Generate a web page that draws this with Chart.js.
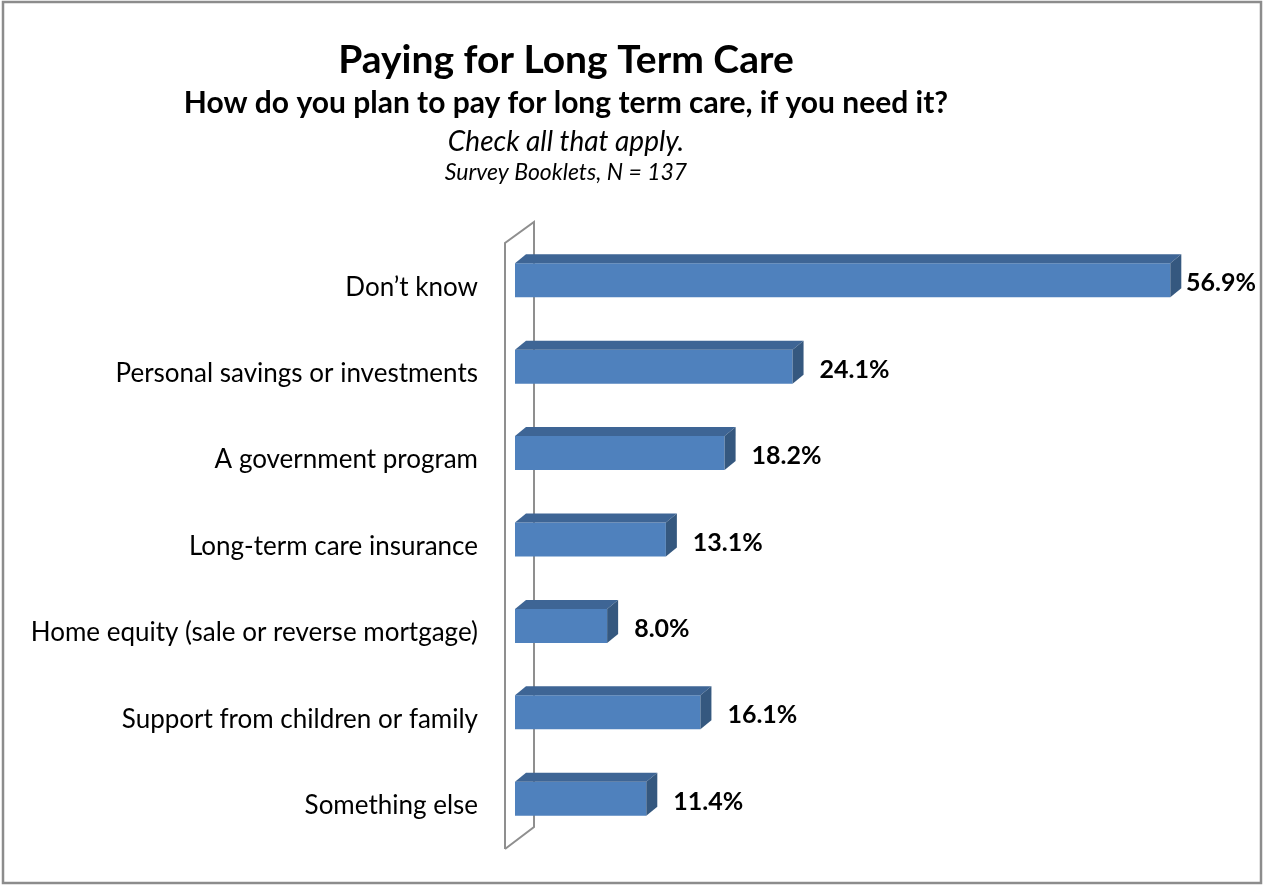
<!DOCTYPE html>
<html>
<head>
<meta charset="utf-8">
<title>Paying for Long Term Care</title>
<script src="https://cdn.jsdelivr.net/npm/chart.js@4.4.1/dist/chart.umd.min.js"></script>
<style>
  html, body { margin: 0; padding: 0; background: #fff; }
  #wrap { width: 1263px; height: 886px; position: relative; }
</style>
</head>
<body>
<div id="wrap"><canvas id="ltc" width="1263" height="886"></canvas></div>
<script>
const categories = [
  'Don\u2019t know',
  'Personal savings or investments',
  'A government program',
  'Long-term care insurance',
  'Home equity (sale or reverse mortgage)',
  'Support from children or family',
  'Something else'
];
const percents = [56.9, 24.1, 18.2, 13.1, 8.0, 16.1, 11.4];

const headings = [
  { text: 'Paying for Long Term Care', font: 'bold 39px Lato', y: 60 },
  { text: 'How do you plan to pay for long term care, if you need it?', font: 'bold 30px Lato', y: 103 },
  { text: 'Check all that apply.', font: 'italic 28px Lato', y: 142 },
  { text: 'Survey Booklets, N = 137', font: 'italic 23px Lato', y: 173 }
];

const FONT = 'Lato';
const DEPTH_X = 11, DEPTH_Y = -9;

// border, titles and the 3d back wall behind the bars
const frame = {
  id: 'frame',
  beforeDatasetsDraw(chart) {
    const ctx = chart.ctx;
    const a = chart.chartArea;
    ctx.save();
    ctx.strokeStyle = '#8c8c8c';
    ctx.lineWidth = 2.5;
    ctx.strokeRect(3, 2, 1258, 881);

    ctx.fillStyle = '#000';
    ctx.textAlign = 'center';
    ctx.textBaseline = 'middle';
    headings.forEach(h => {
      ctx.font = h.font;
      ctx.fillText(h.text, 566, h.y);
    });

    // wall
    const fx = a.left - 10, bx = a.left + 19;
    ctx.strokeStyle = '#8f8f8f';
    ctx.lineWidth = 2;
    ctx.beginPath();
    ctx.moveTo(fx, a.bottom + 7);
    ctx.lineTo(fx, a.top + 6);
    ctx.lineTo(bx, a.top - 15);
    ctx.lineTo(bx, a.bottom - 15);
    ctx.lineTo(fx, a.bottom + 7);
    ctx.stroke();
    ctx.restore();
  }
};

// top and side faces of each bar, plus the value labels
const bars3d = {
  id: 'bars3d',
  afterDatasetsDraw(chart) {
    const ctx = chart.ctx;
    const meta = chart.getDatasetMeta(0);
    ctx.save();
    meta.data.forEach((bar, i) => {
      const x0 = bar.base, x1 = bar.x;
      const y0 = bar.y - bar.height / 2, y1 = bar.y + bar.height / 2;

      ctx.fillStyle = '#3e6595';
      ctx.beginPath();
      ctx.moveTo(x0, y0);
      ctx.lineTo(x0 + DEPTH_X, y0 + DEPTH_Y);
      ctx.lineTo(x1 + DEPTH_X, y0 + DEPTH_Y);
      ctx.lineTo(x1, y0);
      ctx.closePath();
      ctx.fill();

      ctx.fillStyle = '#35587f';
      ctx.beginPath();
      ctx.moveTo(x1, y0);
      ctx.lineTo(x1 + DEPTH_X, y0 + DEPTH_Y);
      ctx.lineTo(x1 + DEPTH_X, y1 + DEPTH_Y);
      ctx.lineTo(x1, y1);
      ctx.closePath();
      ctx.fill();

      // keep the longest label inside the frame
      ctx.fillStyle = '#000';
      ctx.font = 'bold 25px ' + FONT;
      ctx.textAlign = 'left';
      ctx.textBaseline = 'middle';
      const lx = Math.min(x1 + 27, chart.width - 77);
      ctx.fillText(percents[i].toFixed(1) + '%', lx, bar.y + 3);
    });
    ctx.restore();
  }
};

new Chart(document.getElementById('ltc'), {
  type: 'bar',
  data: {
    labels: categories,
    datasets: [{
      data: percents,
      backgroundColor: '#4f81bd',
      borderWidth: 0,
      barPercentage: 0.393,
      categoryPercentage: 1
    }]
  },
  options: {
    indexAxis: 'y',
    responsive: false,
    animation: false,
    layout: { padding: { top: 237, bottom: 44, right: 57, left: 0 } },
    plugins: {
      legend: { display: false },
      tooltip: { enabled: false }
    },
    scales: {
      x: { display: false, min: 0, max: 60 },
      y: {
        grid: { display: false, drawTicks: false },
        border: { display: false },
        afterFit(scale) {
          scale.width = 515;
          // the label half-heights would otherwise shrink the plot
          scale.paddingTop = 0;
          scale.paddingBottom = 0;
        },
        ticks: {
          padding: 37,
          labelOffset: 7,
          color: '#000',
          font: { family: FONT, size: 26 }
        }
      }
    }
  },
  plugins: [frame, bars3d]
});
</script>
</body>
</html>
